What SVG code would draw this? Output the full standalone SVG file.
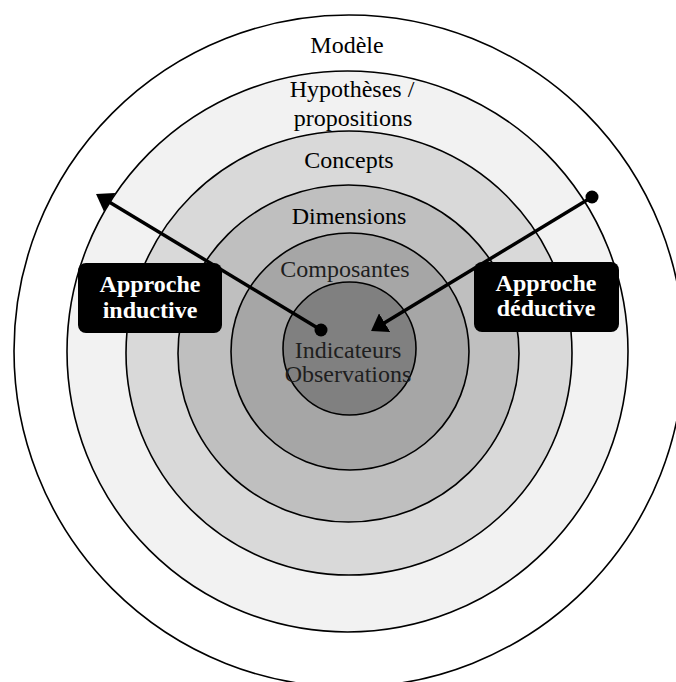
<svg xmlns="http://www.w3.org/2000/svg" width="676" height="682" viewBox="0 0 676 682">
<style>
.ring{stroke:#000;stroke-width:1.6}
.lbl{font-family:"Liberation Serif","Times New Roman",serif;font-size:24px;text-anchor:middle;fill:#000}
.dark{fill:#1e1e1e}
.box{fill:#000}
.btxt{font-family:"Liberation Serif","Times New Roman",serif;font-size:24px;font-weight:bold;text-anchor:middle;fill:#fff}
.conn{stroke:#000;stroke-width:3.5;fill:none}
</style>
<defs>
<marker id="ah" viewBox="0 0 16 22" refX="4" refY="11" markerWidth="16" markerHeight="22" markerUnits="userSpaceOnUse" orient="auto">
<path d="M0,0 L16,11 L0,22 z" fill="#000"/>
</marker>
</defs>
<rect width="676" height="682" fill="#fff"/>
<g id="modele"><ellipse class="ring" cx="349" cy="351" rx="335" ry="336" fill="#fff"/><text class="lbl" x="347" y="53">Modèle</text></g>
<g id="hypotheses"><ellipse class="ring" cx="347.5" cy="351.5" rx="280.5" ry="280.5" fill="#f2f2f2"/><text class="lbl" x="352" y="97">Hypothèses /</text><text class="lbl" x="353" y="126">propositions</text></g>
<g id="concepts"><ellipse class="ring" cx="349" cy="353" rx="223" ry="222" fill="#d9d9d9"/><text class="lbl" x="349" y="168">Concepts</text></g>
<g id="dimensions"><ellipse class="ring" cx="348.5" cy="353.5" rx="170.5" ry="168.5" fill="#bfbfbf"/><text class="lbl" x="349" y="224">Dimensions</text></g>
<g id="composantes"><ellipse class="ring" cx="350" cy="351.5" rx="119" ry="118.5" fill="#a6a6a6"/><text class="lbl dark" x="345" y="277">Composantes</text></g>
<g id="indicateurs"><ellipse class="ring" cx="349.5" cy="348.5" rx="66.5" ry="66.5" fill="#808080"/><text class="lbl dark" x="348" y="358">Indicateurs</text><text class="lbl dark" x="348" y="382">Observations</text></g>
<g id="connectors">
<line class="conn" x1="321" y1="330" x2="106.3" y2="200.2" marker-end="url(#ah)"/>
<circle cx="321" cy="330" r="6.5" fill="#000"/>
<line class="conn" x1="592" y1="197" x2="381.3" y2="324.8" marker-end="url(#ah)"/>
<circle cx="592" cy="197" r="6.5" fill="#000"/>
</g>
<g id="inductive"><rect class="box" x="78" y="263" width="144" height="70" rx="8"/><text class="btxt" x="150" y="292">Approche</text><text class="btxt" x="150" y="318">inductive</text></g>
<g id="deductive"><rect class="box" x="474" y="262" width="145" height="70" rx="8"/><text class="btxt" x="546" y="291">Approche</text><text class="btxt" x="546" y="316">déductive</text></g>
</svg>
